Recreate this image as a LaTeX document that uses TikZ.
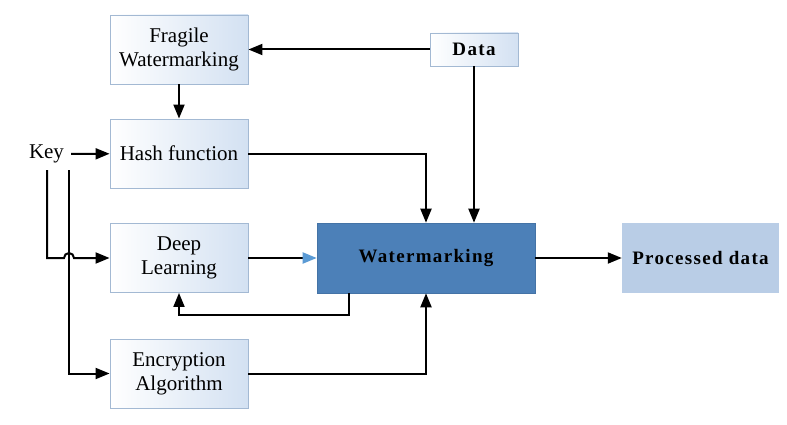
\documentclass[tikz,border=0pt]{standalone}
\usepackage{fontspec}
\setmainfont{Liberation Serif}
\usetikzlibrary{arrows.meta}

\definecolor{boxline}{HTML}{A3B9D3}
\definecolor{boxfill}{HTML}{D3E1F2}
\definecolor{wmblue}{HTML}{4C80B8}
\definecolor{procblue}{HTML}{B9CDE6}
\definecolor{tipblue}{HTML}{5B9BD5}

\begin{document}
\begin{tikzpicture}[x=1pt,y=1pt,
                    arrow/.style   = {line width=2pt,-{Triangle[length=14pt,width=11pt]}},
                    tiparrow/.style = {line width=2pt,-{Triangle[length=14pt,width=11pt,fill=tipblue,color=tipblue]}},
                    block/.style   = {draw=boxline,line width=0.9pt,left color=white,right color=boxfill,
                                      minimum width=138pt,minimum height=69pt,align=center,
                                      font=\fontsize{21}{24}\selectfont},
                    boldtext/.style = {font=\fontsize{19}{21}\selectfont\bfseries\addfontfeature{LetterSpace=7}}]

                    \useasboundingbox[fill=white] (0,0) rectangle (787,424);

                    \node[block]                            (frag) at (179,374.5) {Fragile\\Watermarking};
                    \node[block]                            (hash) at (179,270.5) {Hash function};
                    \node[block]                            (deep) at (179,166)   {Deep\\Learning};
                    \node[block]                            (enc)  at (179,50.5)  {Encryption\\Algorithm};
                    \node[block,boldtext,minimum width=88pt,minimum height=33pt]
                                                            (data) at (474,374.5) {Data};
                    \node[boldtext,fill=wmblue,draw=wmblue!90!black,line width=0.6pt,
                          minimum width=218pt,minimum height=70pt] (wm) at (426,166) {Watermarking};
                    \node[boldtext,fill=procblue,minimum width=157pt,minimum height=70pt]
                                                            (proc) at (700.5,166) {Processed data};
                    \node[font=\fontsize{21}{24}\selectfont,inner xsep=7pt] (key) at (46.5,270) {Key};

                    \coordinate (k1) at (47,254);
                    \coordinate (k2) at (69,254);
                    \coordinate (fb) at (349,109);

                    \draw[arrow] (data.west) -- (frag.east);
                    \draw[arrow] (data.south) -- (data.south |- wm.north);
                    \draw[arrow] (frag) -- (hash);
                    \draw[arrow] (key) -- (hash);
                    \draw[arrow] (hash.east) -| (wm.north);

                    \draw[arrow] (k1) |- ([xshift=-5pt]k2 |- deep.west)
                                 arc[start angle=180,end angle=0,radius=5pt] -- (deep.west);
                    \draw[arrow] (k2) |- (enc.west);

                    \draw[tiparrow] (deep) -- (wm);
                    \draw[arrow] (fb |- wm.south) -- (fb) -| (deep.south);
                    \draw[arrow] (enc.east) -| (wm.south);
                    \draw[arrow] (wm) -- (proc);

\end{tikzpicture}
\end{document}
